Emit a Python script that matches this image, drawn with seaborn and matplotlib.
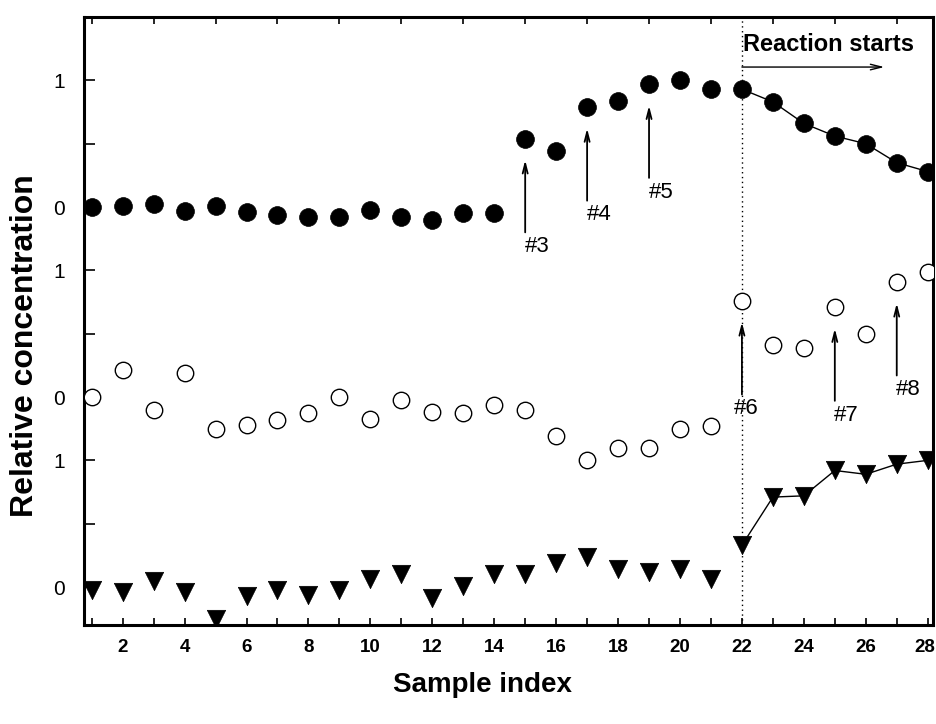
import numpy as np
import pandas as pd
import matplotlib
matplotlib.use("Agg")
import matplotlib.pyplot as plt
import matplotlib.transforms as mtransforms
import seaborn as sns

# ---- data ----
sample_index = list(range(1, 29))
series_top = [0.00, 0.01, 0.02, -0.03, 0.01, -0.04, -0.06, -0.08, -0.08, -0.02,
              -0.08, -0.10, -0.05, -0.05, 0.54, 0.44, 0.79, 0.84, 0.97, 1.00,
              0.93, 0.93, 0.83, 0.66, 0.56, 0.50, 0.35, 0.28]
series_mid = [0.00, 0.21, -0.10, 0.19, -0.25, -0.22, -0.18, -0.13, 0.00, -0.17,
              -0.02, -0.12, -0.13, -0.06, -0.10, -0.31, -0.50, -0.40, -0.40, -0.25,
              -0.23, 0.76, 0.41, 0.39, 0.71, 0.50, 0.91, 0.99]
series_bot = [-0.02, -0.04, 0.05, -0.04, -0.25, -0.07, -0.02, -0.06, -0.02, 0.06,
              0.10, -0.09, 0.01, 0.10, 0.10, 0.19, 0.24, 0.14, 0.12, 0.14,
              0.06, 0.33, 0.71, 0.72, 0.92, 0.89, 0.97, 1.00]
reaction_start = 22
top_labels = {15: "#3", 17: "#4", 19: "#5"}
mid_labels = {22: "#6", 25: "#7", 27: "#8"}
xtick_labels = [str(v) for v in range(2, 29, 2)]
ytick_labels = ["0", "1", "0", "1", "0", "1"]

# ---- layout ----
sns.set_style("ticks")
plt.rcParams['font.family'] = ['Liberation Sans', 'DejaVu Sans']
plt.rcParams['text.color'] = 'black'
plt.rcParams['axes.labelcolor'] = 'black'
plt.rcParams['xtick.color'] = 'black'
plt.rcParams['ytick.color'] = 'black'

offsets = {"top": 3.0, "mid": 1.5, "bot": 0.0}
df = pd.DataFrame({
    "x": sample_index * 3,
    "y": np.concatenate([np.array(series_top) + offsets["top"],
                         np.array(series_mid) + offsets["mid"],
                         np.array(series_bot) + offsets["bot"]]),
    "series": ["top"] * 28 + ["mid"] * 28 + ["bot"] * 28,
})

fig = plt.figure(figsize=(9.37, 7.24), dpi=100)
ax = fig.add_axes([0.0896, 0.1367, 0.9061, 0.8398])

# connecting lines after reaction start
for s in ["top", "bot"]:
    sub = df[(df.series == s) & (df.x >= reaction_start)]
    sns.lineplot(data=sub, x="x", y="y", ax=ax, color="black", lw=1.0,
                 sort=True, estimator=None, legend=False)

sns.scatterplot(data=df[df.series == "top"], x="x", y="y", ax=ax, marker="o",
                s=165, color="black", edgecolor="black", linewidth=0.5, legend=False, zorder=3)
sns.scatterplot(data=df[df.series == "mid"], x="x", y="y", ax=ax, marker="o",
                s=140, facecolor="white", edgecolor="black", linewidth=1.0, legend=False, zorder=3)
sns.scatterplot(data=df[df.series == "bot"], x="x", y="y", ax=ax, marker="v",
                s=175, color="black", edgecolor="black", linewidth=0.5, legend=False, zorder=3)

ax.axvline(reaction_start, color="black", lw=1.0, ls=(0, (1, 2.5)), zorder=1)

ax.set_xlim(0.75, 28.17)
ax.set_ylim(-0.3, 4.5)

# annotation arrows
def add_arrow(xv, val, off, label, dx):
    tip = val + off - 0.17
    tail = tip - 0.57
    ax.annotate("", xy=(xv, tip), xytext=(xv, tail),
                arrowprops=dict(arrowstyle="->,head_length=0.7,head_width=0.18",
                                color="black", lw=1.3, shrinkA=0, shrinkB=0))
    ax.text(xv + dx, tail - 0.03, label, ha="center", va="top", fontsize=16)

for xv, lab in top_labels.items():
    add_arrow(xv, series_top[xv - 1], offsets["top"], lab, 0.38)
for xv, lab in mid_labels.items():
    add_arrow(xv, series_mid[xv - 1], offsets["mid"], lab, 0.15 if xv == reaction_start else 0.38)

ax.text(reaction_start + 0.02, 4.28, "Reaction starts", ha="left", va="center",
        fontsize=17, fontweight="bold")
ax.annotate("", xy=(26.6, 4.105), xytext=(reaction_start, 4.105),
            arrowprops=dict(arrowstyle="->,head_length=0.8,head_width=0.2",
                            color="black", lw=1.0, shrinkA=0, shrinkB=0))

# ticks
ax.set_xticks(range(2, 29, 2))
ax.set_xticklabels(xtick_labels, fontsize=13.5, fontweight="bold")
ax.set_xticks(range(1, 29, 2), minor=True)
ax.set_yticks([0, 1, 1.5, 2.5, 3, 4])
ax.set_yticklabels(ytick_labels, fontsize=15)
ax.set_yticks([0.5, 2.0, 3.5], minor=True)

ax.tick_params(axis="x", which="both", direction="in", length=5, width=1.2,
               top=False, bottom=True, pad=10)
ax.tick_params(axis="x", which="minor", top=True)
ax.tick_params(axis="y", which="both", direction="in", length=8, width=1.2,
               left=True, right=False, pad=14)

# nudge the last x tick label slightly inward so it stays inside the figure
last = ax.get_xticklabels()[-1]
last.set_transform(last.get_transform() +
                   mtransforms.ScaledTranslation(-3 / 100, 0, fig.dpi_scale_trans))

for sp in ax.spines.values():
    sp.set_visible(True)
    sp.set_linewidth(2.2)
    sp.set_color("black")

ax.set_xlabel("Sample index", fontsize=20, fontweight="bold")
ax.xaxis.set_label_coords(0.469, -0.077)
ax.set_ylabel("Relative concentration", fontsize=23, fontweight="bold")
ax.yaxis.set_label_coords(-0.052, 0.46)

fig.savefig("out.png", dpi=100)
